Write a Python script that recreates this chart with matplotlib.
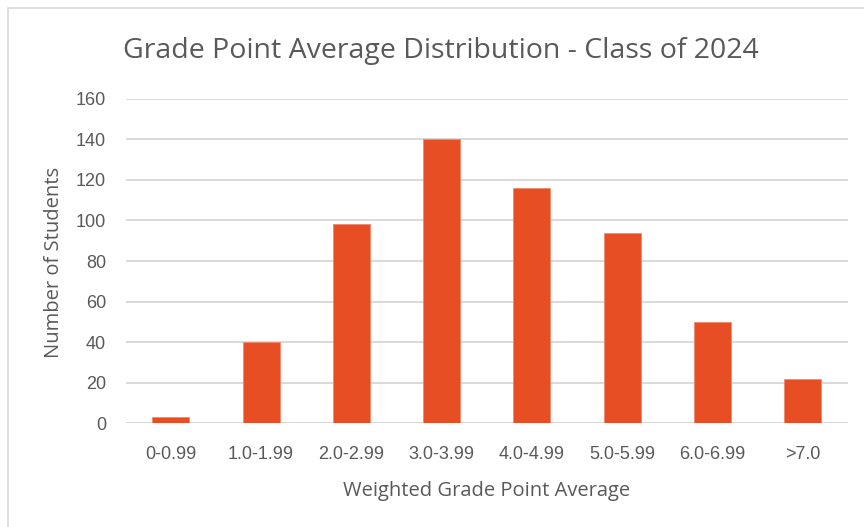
import matplotlib
matplotlib.use("Agg")
import matplotlib.pyplot as plt
from matplotlib.patches import Rectangle

categories = ["0-0.99", "1.0-1.99", "2.0-2.99", "3.0-3.99", "4.0-4.99", "5.0-5.99", "6.0-6.99", ">7.0"]
students = [3, 40, 98, 140, 116, 94, 50, 22]
yticks = [0, 20, 40, 60, 80, 100, 120, 140, 160]

plt.rcParams['font.family'] = ['Open Sans', 'DejaVu Sans']
W, H = 864, 527
fig = plt.figure(figsize=(W/100, H/100), dpi=100)
ax = fig.add_axes([125.6/W, 1-423.3/H, (848-125.6)/W, (423.3-98.7)/H])

x = list(range(len(categories)))
ax.bar(x, students, width=0.41, color="#E84E23", edgecolor="#F08A70", linewidth=0.6, zorder=3)
ax.set_xlim(-0.5, len(categories)-0.5)
ax.set_ylim(0, 160)
ax.set_yticks(yticks)
ax.set_xticks(x)
ax.set_xticklabels(categories)
ax.grid(axis='y', color="#D9D9D9", linewidth=1.4, zorder=0)
for s in ax.spines.values():
    s.set_visible(False)
ax.tick_params(length=0, colors="#595959", labelsize=13)
ax.tick_params(axis='x', pad=16)
ax.tick_params(axis='y', pad=14)
for lab in ax.get_xticklabels() + ax.get_yticklabels():
    lab.set_fontfamily(['Liberation Sans', 'DejaVu Sans'])
fig.text(487/W, 1-496/H, "Weighted Grade Point Average", ha='center', va='baseline',
         fontsize=14.5, color="#595959")
fig.text(54/W, 1-262/H, "Number of Students", ha='center', va='center', rotation=90,
         fontsize=14.5, color="#595959")
fig.text(441/W, 1-57.7/H, "Grade Point Average Distribution - Class of 2024", ha='center', va='baseline',
         fontsize=20.5, color="#595959")
fig.patches.append(Rectangle((8/W, -0.1), 1.2, (H-8)/H+0.1, transform=fig.transFigure,
                             fill=False, edgecolor="#D9D9D9", linewidth=1.2))
fig.savefig("out.png", dpi=100)
